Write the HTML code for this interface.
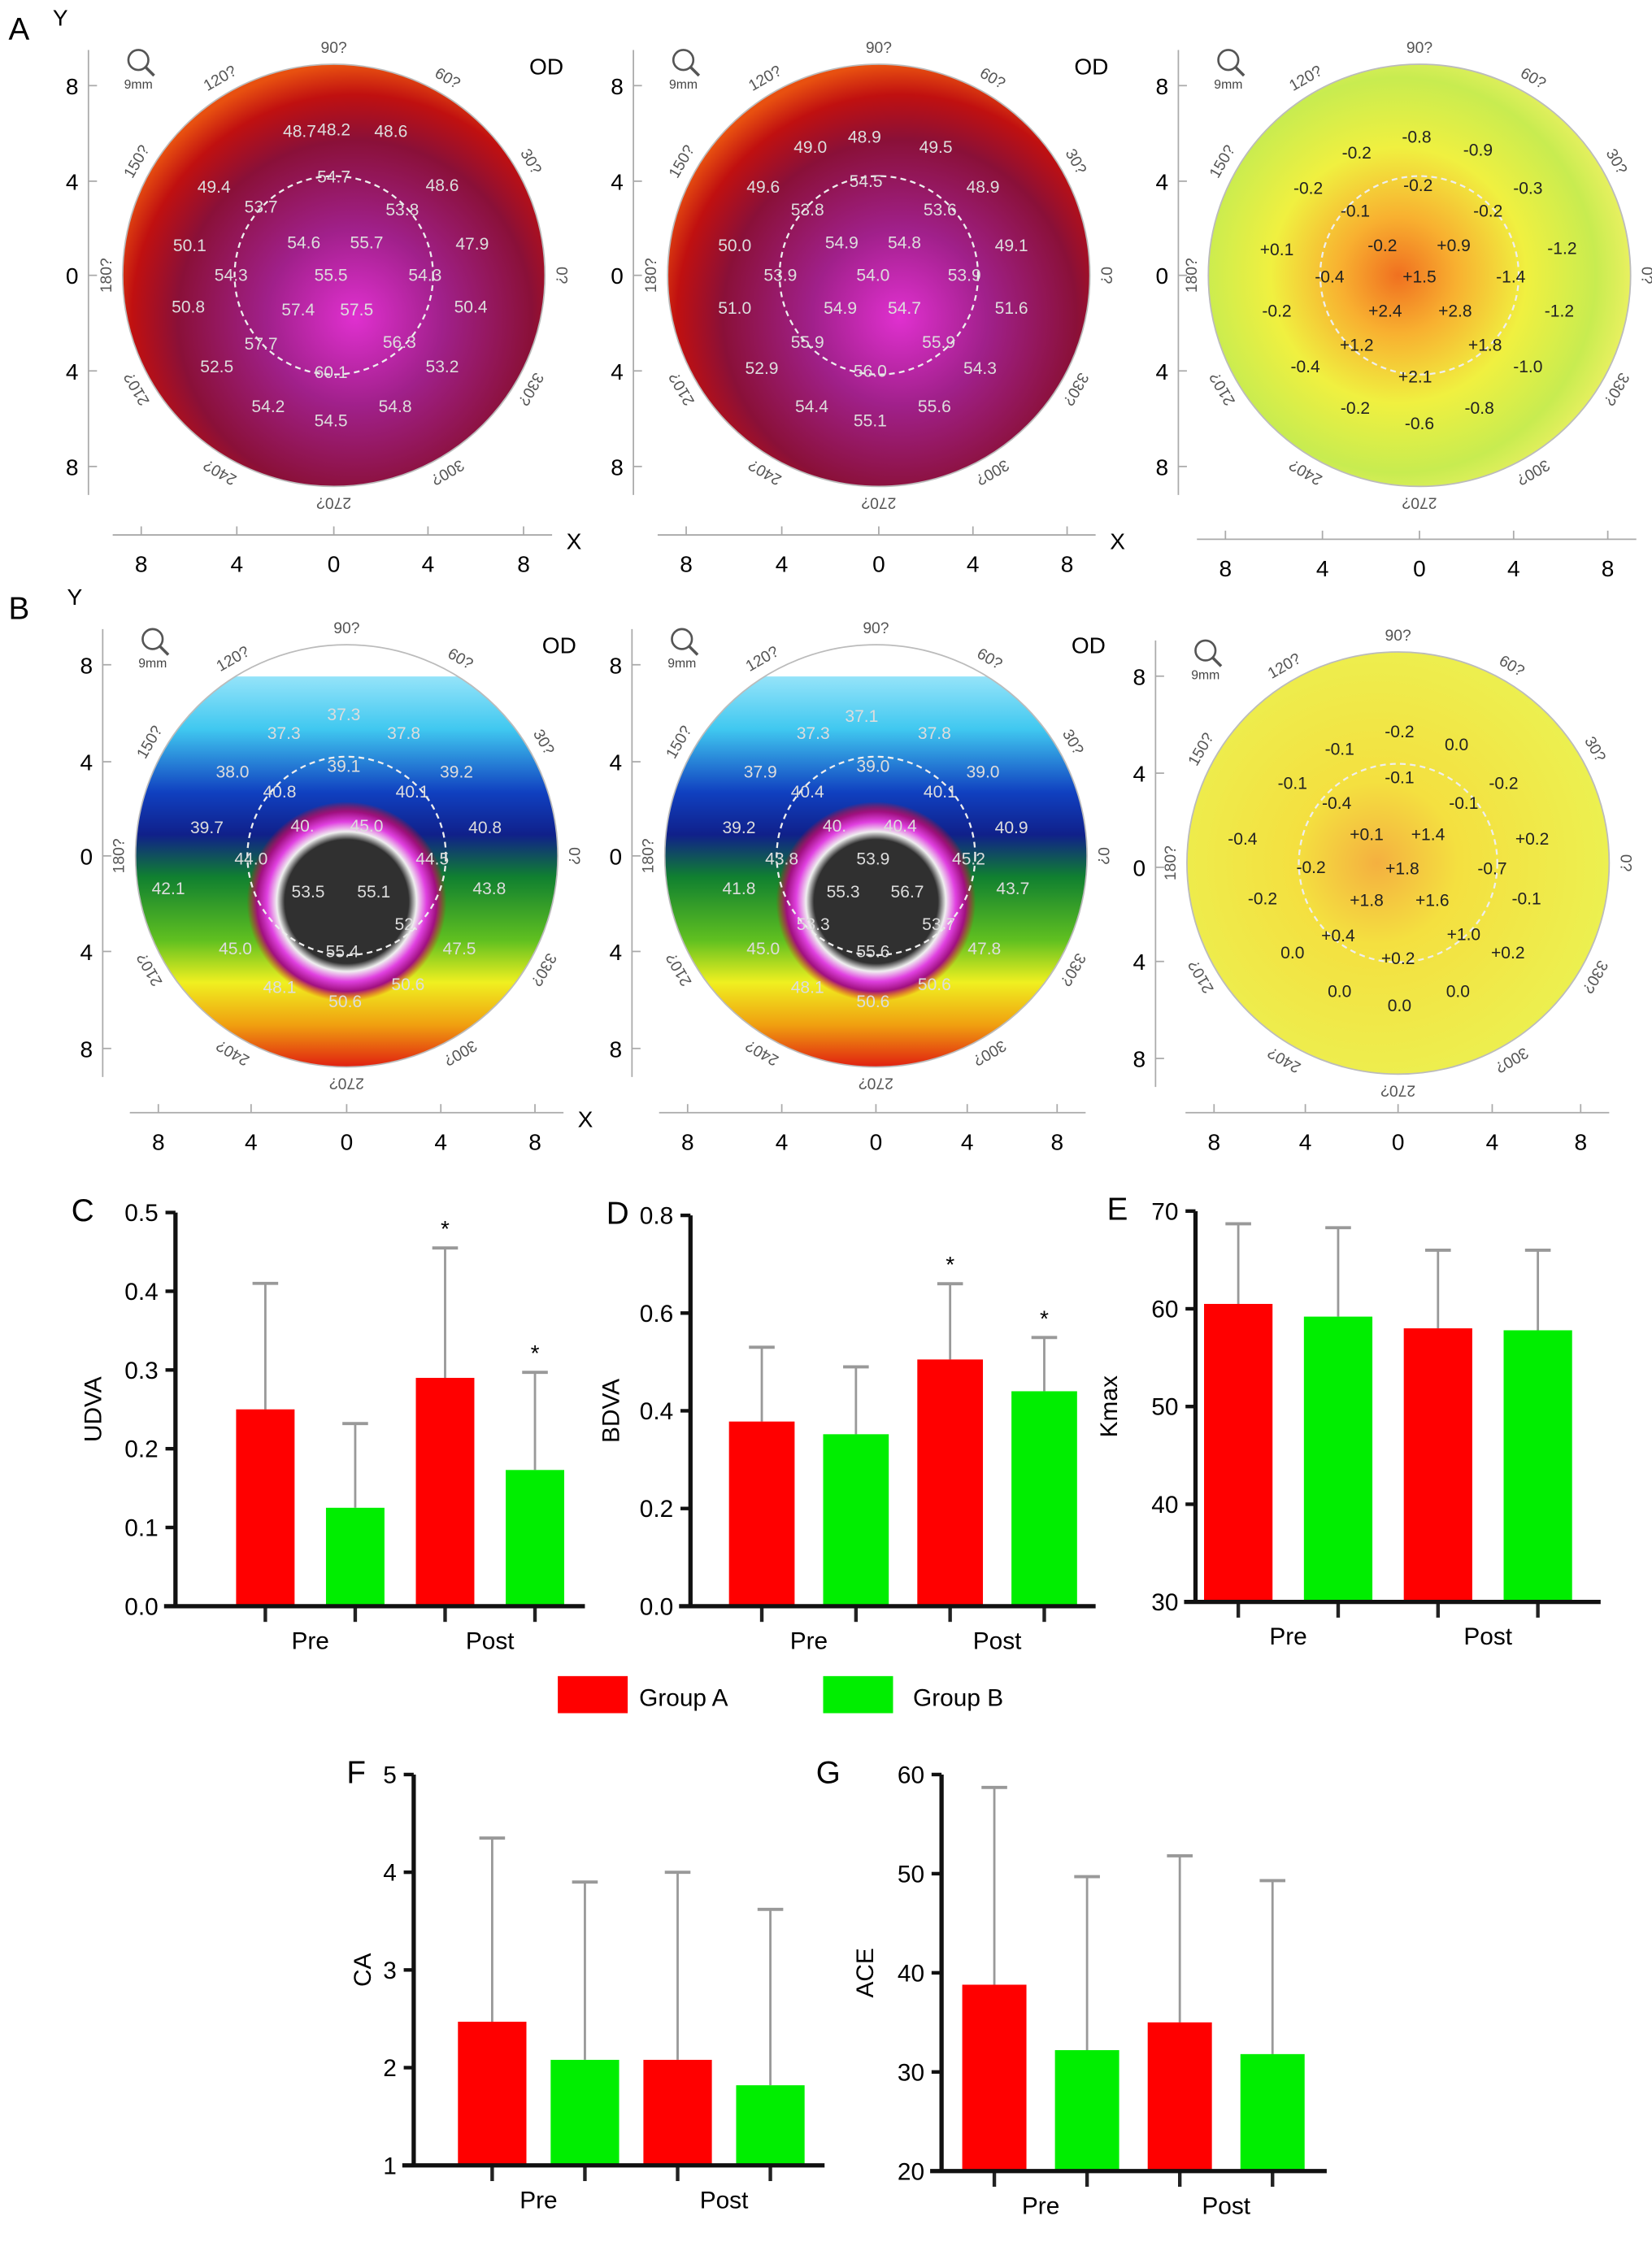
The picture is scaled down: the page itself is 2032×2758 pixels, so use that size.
<!DOCTYPE html>
<html><head><meta charset="utf-8"><style>
html,body{margin:0;padding:0;background:#fff}
svg{display:block;font-family:"Liberation Sans",Arial,sans-serif}
</style></head><body>
<svg id="s" width="2032" height="2758" viewBox="0 0 1158 1571.7" xmlns="http://www.w3.org/2000/svg">
<defs>
<radialGradient id="gA" cx="0.55" cy="0.6" r="0.6">
<stop offset="0" stop-color="#e030d0"/><stop offset="0.35" stop-color="#a0208a"/><stop offset="0.7" stop-color="#8a1038"/><stop offset="0.88" stop-color="#c01010"/><stop offset="1" stop-color="#e85010"/></radialGradient>
<radialGradient id="gD" cx="0.45" cy="0.5" r="0.55">
<stop offset="0" stop-color="#f07020"/><stop offset="0.25" stop-color="#f8b030"/><stop offset="0.55" stop-color="#f0f040"/><stop offset="0.85" stop-color="#c8ec50"/><stop offset="1" stop-color="#e8f060"/></radialGradient>
<linearGradient id="gB" x1="0" y1="0" x2="0" y2="1">
<stop offset="0" stop-color="#c8f4ff"/><stop offset="0.2" stop-color="#40c8f0"/><stop offset="0.35" stop-color="#1040c0"/><stop offset="0.45" stop-color="#10208a"/><stop offset="0.55" stop-color="#108030"/><stop offset="0.7" stop-color="#60c020"/><stop offset="0.8" stop-color="#f0f020"/><stop offset="0.9" stop-color="#f0a010"/><stop offset="1" stop-color="#e02010"/></linearGradient>
<radialGradient id="gBc" cx="0.5" cy="0.5" r="0.5">
<stop offset="0" stop-color="#303030"/><stop offset="0.62" stop-color="#303030"/><stop offset="0.7" stop-color="#f0f0f0"/><stop offset="0.8" stop-color="#e040e0"/><stop offset="0.9" stop-color="#a01080"/><stop offset="1" stop-color="#e01010" stop-opacity="0"/></radialGradient>
<radialGradient id="gE" cx="0.45" cy="0.5" r="0.55">
<stop offset="0" stop-color="#f4b040"/><stop offset="0.35" stop-color="#f4e040"/><stop offset="1" stop-color="#ecf050"/></radialGradient>
</defs>
<g id="maps"></g>
<g id="charts"></g>
<g>
<rect x="391" y="1175" width="49" height="26" fill="#ff0000"/>
<text x="448" y="1196" font-size="17">Group A</text>
<rect x="577" y="1175" width="49" height="26" fill="#00ee00"/>
<text x="640" y="1196" font-size="17">Group B</text>
</g>
</svg>
<script>
const NS="http://www.w3.org/2000/svg";
function mk(p,tag,attrs,txt){const e=document.createElementNS(NS,tag);for(const k in attrs)e.setAttribute(k,attrs[k]);if(txt!==undefined)e.textContent=txt;p.appendChild(e);return e;}
const maps=document.getElementById('maps');
const mapDefs=[
 {cx:234,cy:193,fill:'url(#gA)',yAx:62,yT:[60,127,193,260,327],xAxY:375,xL:[99,166,234,300,367],od:true,X:true,Y:true,panel:'A',nums:[[210,92,'48.7'],[234,91,'48.2'],[274,92,'48.6'],[150,131,'49.4'],[183,145,'53.7'],[234,124,'54.7'],[282,147,'53.8'],[310,130,'48.6'],[133,172,'50.1'],[213,170,'54.6'],[257,170,'55.7'],[331,171,'47.9'],[162,193,'54.3'],[232,193,'55.5'],[298,193,'54.3'],[132,215,'50.8'],[209,217,'57.4'],[250,217,'57.5'],[330,215,'50.4'],[183,241,'57.7'],[280,240,'56.3'],[152,257,'52.5'],[232,261,'60.1'],[310,257,'53.2'],[188,285,'54.2'],[232,295,'54.5'],[277,285,'54.8']]},
 {cx:616,cy:193,fill:'url(#gA)',yAx:444,yT:[60,127,193,260,327],xAxY:375,xL:[481,548,616,682,748],od:true,X:true,nums:[[568,103,'49.0'],[606,96,'48.9'],[656,103,'49.5'],[535,131,'49.6'],[566,147,'53.8'],[607,127,'54.5'],[659,147,'53.6'],[689,131,'48.9'],[515,172,'50.0'],[590,170,'54.9'],[634,170,'54.8'],[709,172,'49.1'],[547,193,'53.9'],[612,193,'54.0'],[676,193,'53.9'],[515,216,'51.0'],[589,216,'54.9'],[634,216,'54.7'],[709,216,'51.6'],[566,240,'55.9'],[658,240,'55.9'],[534,258,'52.9'],[610,260,'56.0'],[687,258,'54.3'],[569,285,'54.4'],[610,295,'55.1'],[655,285,'55.6']]},
 {cx:995,cy:193,fill:'url(#gD)',yAx:826,yT:[60,127,193,260,327],xAxY:378,xL:[859,927,995,1061,1127],od:false,nums:[[951,107,'-0.2'],[993,96,'-0.8'],[1036,105,'-0.9'],[917,132,'-0.2'],[994,130,'-0.2'],[1043,148,'-0.2'],[1071,132,'-0.3'],[950,148,'-0.1'],[895,175,'+0.1'],[969,172,'-0.2'],[1019,172,'+0.9'],[1095,174,'-1.2'],[932,194,'-0.4'],[995,194,'+1.5'],[1059,194,'-1.4'],[895,218,'-0.2'],[971,218,'+2.4'],[1020,218,'+2.8'],[1093,218,'-1.2'],[951,242,'+1.2'],[1041,242,'+1.8'],[915,257,'-0.4'],[992,264,'+2.1'],[1071,257,'-1.0'],[950,286,'-0.2'],[995,297,'-0.6'],[1037,286,'-0.8']]},
 {cx:243,cy:600,fill:'url(#gB)',yAx:72,yT:[466,534,600,667,735],xAxY:780,xL:[111,176,243,309,375],od:true,X:true,Y:true,panel:'B',bowl:true,nums:[[199,514,'37.3'],[241,501,'37.3'],[283,514,'37.8'],[163,541,'38.0'],[196,555,'40.8'],[241,537,'39.1'],[289,555,'40.1'],[320,541,'39.2'],[145,580,'39.7'],[212,579,'40.'],[257,579,'45.0'],[340,580,'40.8'],[176,602,'44.0'],[303,602,'44.5'],[118,623,'42.1'],[216,625,'53.5'],[262,625,'55.1'],[343,623,'43.8'],[285,648,'52.'],[165,665,'45.0'],[240,667,'55.4'],[322,665,'47.5'],[196,692,'48.1'],[242,702,'50.6'],[286,690,'50.6']]},
 {cx:614,cy:600,fill:'url(#gB)',yAx:443,yT:[466,534,600,667,735],xAxY:780,xL:[482,548,614,678,741],od:true,bowl:true,nums:[[570,514,'37.3'],[604,502,'37.1'],[655,514,'37.8'],[533,541,'37.9'],[566,555,'40.4'],[612,537,'39.0'],[659,555,'40.1'],[689,541,'39.0'],[518,580,'39.2'],[585,579,'40.'],[631,579,'40.4'],[709,580,'40.9'],[548,602,'43.8'],[612,602,'53.9'],[679,602,'45.2'],[518,623,'41.8'],[591,625,'55.3'],[636,625,'56.7'],[710,623,'43.7'],[570,648,'53.3'],[658,648,'53.7'],[535,665,'45.0'],[612,667,'55.6'],[690,665,'47.8'],[566,692,'48.1'],[612,702,'50.6'],[655,690,'50.6']]},
 {cx:980,cy:605,fill:'url(#gE)',yAx:810,yT:[474,542,608,674,742],xAxY:780,xL:[851,915,980,1046,1108],od:false,nums:[[939,525,'-0.1'],[981,513,'-0.2'],[1021,522,'0.0'],[906,549,'-0.1'],[937,563,'-0.4'],[981,545,'-0.1'],[1026,563,'-0.1'],[1054,549,'-0.2'],[871,588,'-0.4'],[958,585,'+0.1'],[1001,585,'+1.4'],[1074,588,'+0.2'],[919,608,'-0.2'],[983,609,'+1.8'],[1046,609,'-0.7'],[885,630,'-0.2'],[958,631,'+1.8'],[1004,631,'+1.6'],[1070,630,'-0.1'],[938,656,'+0.4'],[1026,655,'+1.0'],[906,668,'0.0'],[980,672,'+0.2'],[1057,668,'+0.2'],[939,695,'0.0'],[981,705,'0.0'],[1022,695,'0.0']]}
];
mapDefs.forEach((m,i)=>{
 const g=mk(maps,'g',{});
 
 
 const r=148;
 mk(g,'circle',{cx:m.cx,cy:m.cy,r:r,fill:m.fill});
 if(m.bowl){mk(g,'rect',{x:m.cx-r,y:m.cy-r,width:2*r,height:r*0.15,fill:'#fff'});mk(g,'circle',{cx:m.cx,cy:m.cy+32,r:70,fill:'url(#gBc)'});}
 mk(g,'circle',{cx:m.cx,cy:m.cy,r:r,fill:'none',stroke:'#bbb','stroke-width':1});
 mk(g,'circle',{cx:m.cx,cy:m.cy,r:r*0.47,fill:'none',stroke:'#eee','stroke-width':1.3,'stroke-dasharray':'4 3'});
 const ang=[['90?',90],['60?',60],['30?',30],['0?',0],['330?',-30],['300?',-60],['270?',-90],['240?',-120],['210?',-150],['180?',180],['150?',150],['120?',120]];
 ang.forEach(a=>{const t=a[1]*Math.PI/180;const x=m.cx+(r+12)*Math.cos(t),y=m.cy-(r+12)*Math.sin(t);
  mk(g,'text',{x:x,y:y+4,'font-size':11,fill:'#555','text-anchor':'middle',transform:`rotate(${90-a[1]} ${x} ${y})`},a[0]);});
 m.nums.forEach(n=>{const e=mk(g,'text',{x:n[0],y:n[1]+4,'font-size':12,fill:(i===2||i===5)?'#222':'#ddd','text-anchor':'middle'},n[2]);
  });
 mk(g,'circle',{cx:m.yAx+35,cy:m.yT[0]-18,r:7,fill:'#fff',stroke:'#555','stroke-width':1.5});
 mk(g,'line',{x1:m.yAx+40,y1:m.yT[0]-13,x2:m.yAx+46,y2:m.yT[0]-7,stroke:'#555','stroke-width':2});
 mk(g,'text',{x:m.yAx+35,y:m.yT[0]+2,'font-size':9,fill:'#444','text-anchor':'middle'},'9mm');
 if(m.od){const t=mk(g,'text',{x:m.cx+137,y:m.yT[0]-8,'font-size':16},'OD');}
 mk(g,'line',{x1:m.yAx,y1:m.yT[0]-25,x2:m.yAx,y2:m.yT[4]+20,stroke:'#aaa'});
 m.yT.forEach((y,j)=>{mk(g,'text',{x:m.yAx-7,y:y+6,'font-size':16,'text-anchor':'end'},[8,4,0,4,8][j]);mk(g,'line',{x1:m.yAx,y1:y,x2:m.yAx+6,y2:y,stroke:'#aaa'});});
 mk(g,'line',{x1:m.xL[0]-20,y1:m.xAxY,x2:m.xL[4]+20,y2:m.xAxY,stroke:'#aaa'});
 m.xL.forEach((x,j)=>{mk(g,'text',{x:x,y:m.xAxY+26,'font-size':16,'text-anchor':'middle'},[8,4,0,4,8][j]);mk(g,'line',{x1:x,y1:m.xAxY,x2:x,y2:m.xAxY-6,stroke:'#aaa'});});
 if(m.X)mk(g,'text',{x:m.xL[4]+30,y:m.xAxY+10,'font-size':16},'X');
 if(m.Y)mk(g,'text',{x:m.yAx-25,y:m.yT[0]-42,'font-size':16},'Y');
 if(m.panel)mk(g,'text',{x:6,y:m.yT[0]-32,'font-size':22},m.panel);
});
// ---- bar chart data ----
const categories=['Pre','Post'];
const udvaA=[0.25,0.29], udvaB=[0.125,0.173], udvaAErr=[0.41,0.455], udvaBErr=[0.232,0.297];
const bdvaA=[0.378,0.505], bdvaB=[0.352,0.44], bdvaAErr=[0.53,0.66], bdvaBErr=[0.49,0.55];
const kmaxA=[60.5,58.0], kmaxB=[59.2,57.8], kmaxAErr=[68.7,66.0], kmaxBErr=[68.3,66.0];
const caA=[2.47,2.08], caB=[2.08,1.82], caAErr=[4.35,4.0], caBErr=[3.9,3.62];
const aceA=[38.8,35.0], aceB=[32.2,31.8], aceAErr=[58.7,51.8], aceBErr=[49.7,49.3];
const udvaTicks=['0.0','0.1','0.2','0.3','0.4','0.5'];
const bdvaTicks=['0.0','0.2','0.4','0.6','0.8'];
const kmaxTicks=['30','40','50','60','70'];
const caTicks=['1','2','3','4','5'];
const aceTicks=['20','30','40','50','60'];
const charts=document.getElementById('charts');
function chart(o){
 const g=mk(charts,'g',{});
 
 
 const ticks=o.ticks.map(Number), lo=ticks[0], hi=ticks[ticks.length-1];
 const y=v=>o.y0+(v-lo)/(hi-lo)*(o.y1-o.y0);
 const bw=o.bw;
 const cx=k=>o.ax+o.off+o.slot*k;
 const series=[[o.A,o.AE,'#ff0000'],[o.B,o.BE,'#00ee00']];
 categories.forEach((c,ci)=>{
  series.forEach((s,si)=>{
   const k=ci*2+si, x=cx(k);
   const er=mk(g,'line',{x1:x,y1:y(s[0][ci]),x2:x,y2:y(s[1][ci]),stroke:'#999','stroke-width':1.6});
   
   mk(g,'line',{x1:x-9,y1:y(s[1][ci]),x2:x+9,y2:y(s[1][ci]),stroke:'#999','stroke-width':2.2});
   const b=mk(g,'rect',{x:x-bw/2,y:y(s[0][ci]),width:bw,height:o.y0-y(s[0][ci]),fill:s[2]});
   
   
   mk(g,'line',{x1:x,y1:o.y0,x2:x,y2:o.y0+11,stroke:'#222','stroke-width':2.5});
   if(o.stars&&ci===1){const st=mk(g,'text',{x:x,y:y(s[1][ci])-8,'font-size':16,'text-anchor':'middle'},'*');}
  });
  const lb=mk(g,'text',{x:(cx(ci*2)+cx(ci*2+1))/2,y:o.y0+30,'font-size':17,'text-anchor':'middle'},c);
  
 });
 mk(g,'line',{x1:o.ax,y1:o.y1,x2:o.ax,y2:o.y0,stroke:'#111','stroke-width':3});
 mk(g,'line',{x1:o.ax-8,y1:o.y0,x2:o.xEnd,y2:o.y0,stroke:'#111','stroke-width':3});
 o.ticks.forEach(t=>{const yy=y(Number(t));mk(g,'line',{x1:o.ax-7,y1:yy,x2:o.ax,y2:yy,stroke:'#111','stroke-width':2.5});
  const tl=mk(g,'text',{x:o.ax-12,y:yy+6,'font-size':17,'text-anchor':'end'},t);});
 const tx=o.ax-o.tOff;
 const yt=mk(g,'text',{x:tx,y:(o.y0+o.y1)/2,'font-size':17,'text-anchor':'middle',transform:`rotate(-90 ${tx} ${(o.y0+o.y1)/2})`},o.title);
 
 const pl=mk(g,'text',{x:o.px,y:o.y1+6,'font-size':22},o.panel);
 
}
chart({title:'UDVA',panel:'C',px:50,tOff:52,ax:123,xEnd:410,y0:1126,y1:850,off:63,slot:63,bw:41,ticks:udvaTicks,A:udvaA,B:udvaB,AE:udvaAErr,BE:udvaBErr,stars:true});
chart({title:'BDVA',panel:'D',px:425,tOff:50,ax:484,xEnd:768,y0:1126,y1:852,off:50,slot:66,bw:46,ticks:bdvaTicks,A:bdvaA,B:bdvaB,AE:bdvaAErr,BE:bdvaBErr,stars:true});
chart({title:'Kmax',panel:'E',px:776,tOff:55,ax:838,xEnd:1122,y0:1123,y1:849,off:30,slot:70,bw:48,ticks:kmaxTicks,A:kmaxA,B:kmaxB,AE:kmaxAErr,BE:kmaxBErr});
chart({title:'CA',panel:'F',px:243,tOff:30,ax:290,xEnd:578,y0:1518,y1:1244,off:55,slot:65,bw:48,ticks:caTicks,A:caA,B:caB,AE:caAErr,BE:caBErr});
chart({title:'ACE',panel:'G',px:572,tOff:48,ax:660,xEnd:930,y0:1522,y1:1244,off:37,slot:65,bw:45,ticks:aceTicks,A:aceA,B:aceB,AE:aceAErr,BE:aceBErr});
</script>
</body></html>
